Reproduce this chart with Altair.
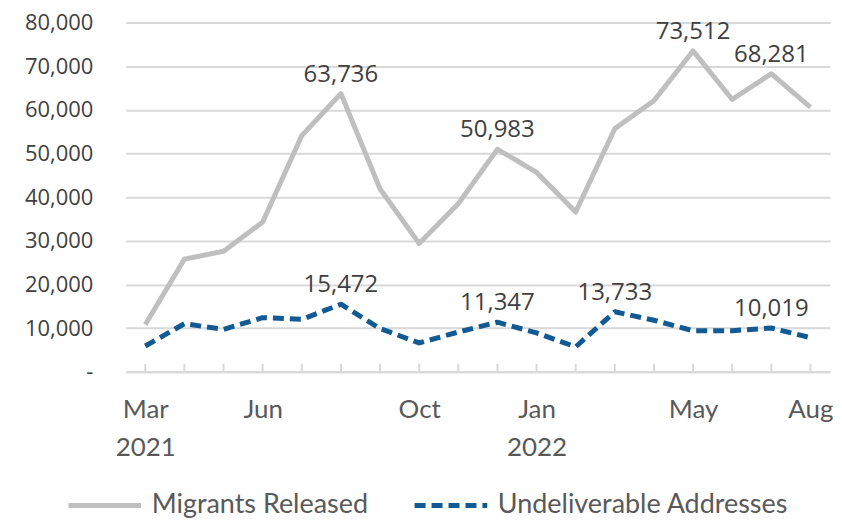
import altair as alt
import pandas as pd

months = ["Mar", "Apr", "May", "Jun", "Jul", "Aug", "Sep", "Oct", "Nov",
          "Dec", "Jan", "Feb", "Mar", "Apr", "May", "Jun", "Jul", "Aug"]
released = [10800, 25800, 27600, 34300, 54100, 63736, 41900, 29400, 38500,
            50983, 45700, 36600, 55700, 62100, 73512, 62400, 68281, 60600]
undeliverable = [5900, 11000, 9700, 12400, 12000, 15472, 9900, 6600, 9100,
                 11347, 8900, 5700, 13733, 11800, 9400, 9400, 10019, 7800]
series_names = ["Migrants Released", "Undeliverable Addresses"]
released_label_idx = [5, 9, 14, 16]
undeliverable_label_idx = [5, 9, 12, 16]
tick_label_idx = [0, 3, 7, 10, 14, 17]
tick_label_text = [["Mar", "2021"], "Jun", "Oct", ["Jan", "2022"], "May", "Aug"]
y_ticks = [0, 10000, 20000, 30000, 40000, 50000, 60000, 70000, 80000]

GRAY = "#bfbfbf"
BLUE = "#125a93"
GRID = "#d9d9d9"
TEXT = "#404040"

rows = []
for i, m in enumerate(months):
    rows.append({"idx": i, "month": m, "series": series_names[0], "value": released[i],
                 "show": i in released_label_idx})
    rows.append({"idx": i, "month": m, "series": series_names[1], "value": undeliverable[i],
                 "show": i in undeliverable_label_idx})
df = pd.DataFrame(rows)
ticks_df = pd.DataFrame({"idx": list(range(len(months)))})


def js(v):
    if isinstance(v, list):
        return "[" + ",".join("'" + s + "'" for s in v) + "]"
    return "'" + v + "'"


expr = "''"
for i, t in zip(reversed(tick_label_idx), reversed(tick_label_text)):
    expr = f"datum.value == {i} ? {js(t)} : ({expr})"

xscale = alt.Scale(domain=[-0.5, len(months) - 0.5], nice=False, zero=False)
yscale = alt.Scale(domain=[0, 80000], nice=False)

x = alt.X("idx:Q", scale=xscale, title=None,
          axis=alt.Axis(values=tick_label_idx, labelExpr=expr, grid=False, ticks=False,
                        domain=True, domainColor=GRID, domainWidth=2,
                        labelFont="Lato", labelFontSize=26, labelColor="#595959",
                        labelPadding=25, labelLineHeight=38, labelFlush=False))
y = alt.Y("value:Q", scale=yscale, title=None,
          axis=alt.Axis(values=y_ticks, grid=True, gridColor=GRID, gridWidth=2,
                        domain=False, ticks=False, labelPadding=33,
                        labelFont="Open Sans", labelFontSize=22, labelColor=TEXT,
                        labelExpr="datum.value == 0 ? '-' : format(datum.value, ',')"))

lines = alt.Chart(df).mark_line(strokeWidth=5, strokeJoin="round").encode(
    x=x, y=y,
    color=alt.Color("series:N", scale=alt.Scale(domain=series_names, range=[GRAY, BLUE]),
                    legend=alt.Legend(title=None, orient="none", direction="horizontal",
                                      legendX=-60, legendY=445,
                                      symbolType="stroke", symbolSize=5300,
                                      symbolStrokeWidth=5, labelFont="Lato",
                                      labelFontSize=27, labelColor="#595959",
                                      labelLimit=400, columnPadding=36, labelOffset=8)),
    strokeDash=alt.StrokeDash("series:N",
                              scale=alt.Scale(domain=series_names, range=[[1, 0], [11, 6]]),
                              legend=alt.Legend(title=None, orient="none")),
)

labels = alt.Chart(df).transform_filter("datum.show").mark_text(
    font="Open Sans", fontSize=24, color=TEXT, baseline="middle", dy=-19
).encode(x="idx:Q", y="value:Q", text=alt.Text("value:Q", format=","))

tickmarks = alt.Chart(ticks_df).mark_rule(color=GRID, strokeWidth=2).encode(
    x=alt.X("idx:Q", scale=xscale), y=alt.value(342), y2=alt.value(350)
)

chart = alt.layer(tickmarks, lines, labels).properties(
    width=706, height=350,
    padding={"left": 16, "top": 3, "right": 0, "bottom": 0},
).configure_view(stroke=None)

chart.save("out.html", embed_options={"renderer": "svg", "actions": False})
